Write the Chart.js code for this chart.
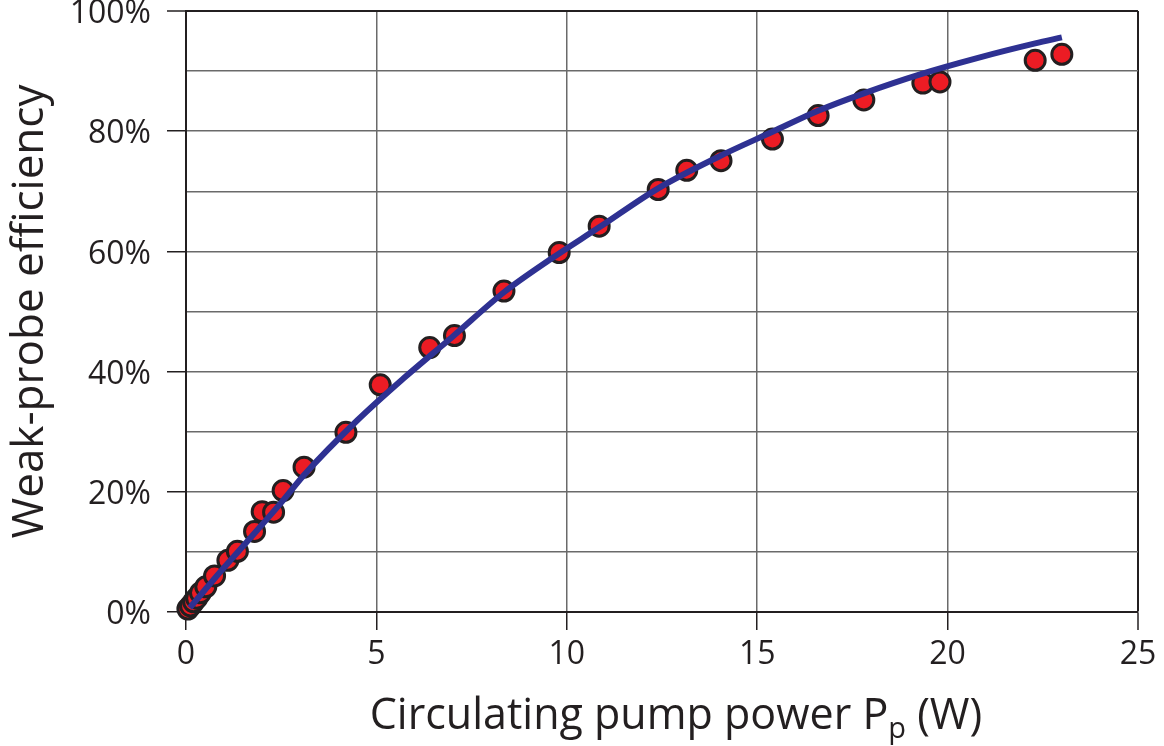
<!DOCTYPE html>
<html>
<head>
<meta charset="utf-8">
<script src="https://cdn.jsdelivr.net/npm/chart.js@4"></script>
<style>
body{margin:0;background:#fff}
</style>
</head>
<body>
<canvas id="eff_canvas" width="1164" height="746"></canvas>
<script>
// measured points (pump power in W, efficiency in %)
const meas_power = [0.05,0.12,0.2,0.28,0.38,0.52,0.75,1.1,1.35,1.8,2.0,2.3,2.55,3.1,4.2,5.1,6.4,7.05,8.35,9.8,10.85,12.4,13.15,14.05,15.4,16.6,17.8,19.35,19.8,22.3,23.0];
const meas_eff   = [0.5,1.0,1.7,2.3,3.2,4.2,6.0,8.6,10.1,13.4,16.7,16.6,20.2,24.1,29.9,37.8,44.0,46.0,53.4,59.8,64.2,70.3,73.5,75.1,78.7,82.6,85.2,88.0,88.2,91.8,92.8];

// fitted curve
const fit_power = [0.1,0.5,1,1.7,2.5,3.1,4.5,5.7,7,8.35,9.55,10.85,12.4,14,15.4,16.6,17.8,19.3,20.8,22.3,23.0];
const fit_eff   = [0.7,3.7,7.4,12.4,18.2,22.8,31.9,38.8,45.8,53.2,58.6,64.0,70.5,75.8,79.9,83.4,86.3,89.5,92.2,94.6,95.6];

const x_ticks = [0,5,10,15,20,25];

const ink = '#231f20';
const gridGray = '#6a6a6a';
const tickFont = {family: '"Open Sans"', size: 32};

const meas_pts = meas_power.map((p, i) => ({x: p, y: meas_eff[i]}));
const fit_pts = fit_power.map((p, i) => ({x: p, y: fit_eff[i]}));

// x axis title with a subscript p
const xTitlePlugin = {
    id: 'xTitle',
    afterDraw(chart) {
        const c = chart.ctx;
        const big = '43px "Open Sans"';
        const small = '29px "Open Sans"';
        const parts = [['Circulating pump power P', big, 0], ['p', small, 9], [' (W)', big, 0]];
        c.save();
        c.fillStyle = ink;
        c.textBaseline = 'alphabetic';
        let total = 0;
        parts.forEach(p => { c.font = p[1]; total += c.measureText(p[0]).width; });
        let x = 676 - total / 2;
        const base = 729;
        parts.forEach(p => {
            c.font = p[1];
            c.fillText(p[0], x, base + p[2]);
            x += c.measureText(p[0]).width;
        });
        c.restore();
    }
};

const eff_config = {
    type: 'scatter',
    data: {
        datasets: [
            {
                label: 'fit',
                data: fit_pts,
                showLine: true,
                borderColor: '#2e3192',
                borderWidth: 6,
                pointRadius: 0,
                cubicInterpolationMode: 'monotone',
                clip: false,
                order: 0
            },
            {
                label: 'measured',
                data: meas_pts,
                backgroundColor: '#ec1c24',
                borderColor: ink,
                pointRadius: 10,
                pointBorderWidth: 3,
                clip: false,
                order: 1
            }
        ]
    },
    options: {
        responsive: false,
        animation: false,
        layout: {autoPadding: false, padding: {top: 11, right: 26, left: 0, bottom: 0}},
        plugins: {legend: {display: false}, tooltip: {enabled: false}},
        scales: {
            x: {
                type: 'linear',
                min: 0,
                max: 25,
                afterBuildTicks: s => { s.ticks = x_ticks.map(v => ({value: v})); },
                afterFit: s => { s.height = 134; s.paddingLeft = 0; s.paddingRight = 0; },
                ticks: {font: tickFont, color: ink, padding: 6},
                grid: {
                    color: c => c.tick && c.tick.value === 25 ? ink : gridGray,
                    lineWidth: c => c.tick && c.tick.value === 25 ? 2 : 1.5,
                    tickLength: 18,
                    tickColor: ink,
                    tickWidth: 1.5
                },
                border: {color: ink, width: 2}
            },
            y: {
                min: 0,
                max: 100,
                afterFit: s => { s.width = 186; s.paddingTop = 0; s.paddingBottom = 0; },
                ticks: {
                    stepSize: 10,
                    font: tickFont,
                    color: ink,
                    padding: 16,
                    labelOffset: 3,
                    callback: v => v % 20 === 0 ? v + '%' : ''
                },
                grid: {
                    color: c => c.tick && c.tick.value === 100 ? ink : gridGray,
                    lineWidth: c => c.tick && c.tick.value === 100 ? 2 : 1.5,
                    tickLength: 19,
                    tickColor: c => c.tick && c.tick.value % 20 === 0 ? ink : 'rgba(0,0,0,0)',
                    tickWidth: 1.5
                },
                border: {color: ink, width: 2},
                title: {
                    display: true,
                    text: 'Weak-probe efficiency',
                    color: ink,
                    font: {family: '"Open Sans"', size: 44},
                    padding: {top: 4, bottom: 0}
                }
            }
        }
    },
    plugins: [xTitlePlugin]
};

const eff_canvas = document.getElementById('eff_canvas');
const eff_chart = new Chart(eff_canvas, eff_config);
</script>
</body>
</html>
